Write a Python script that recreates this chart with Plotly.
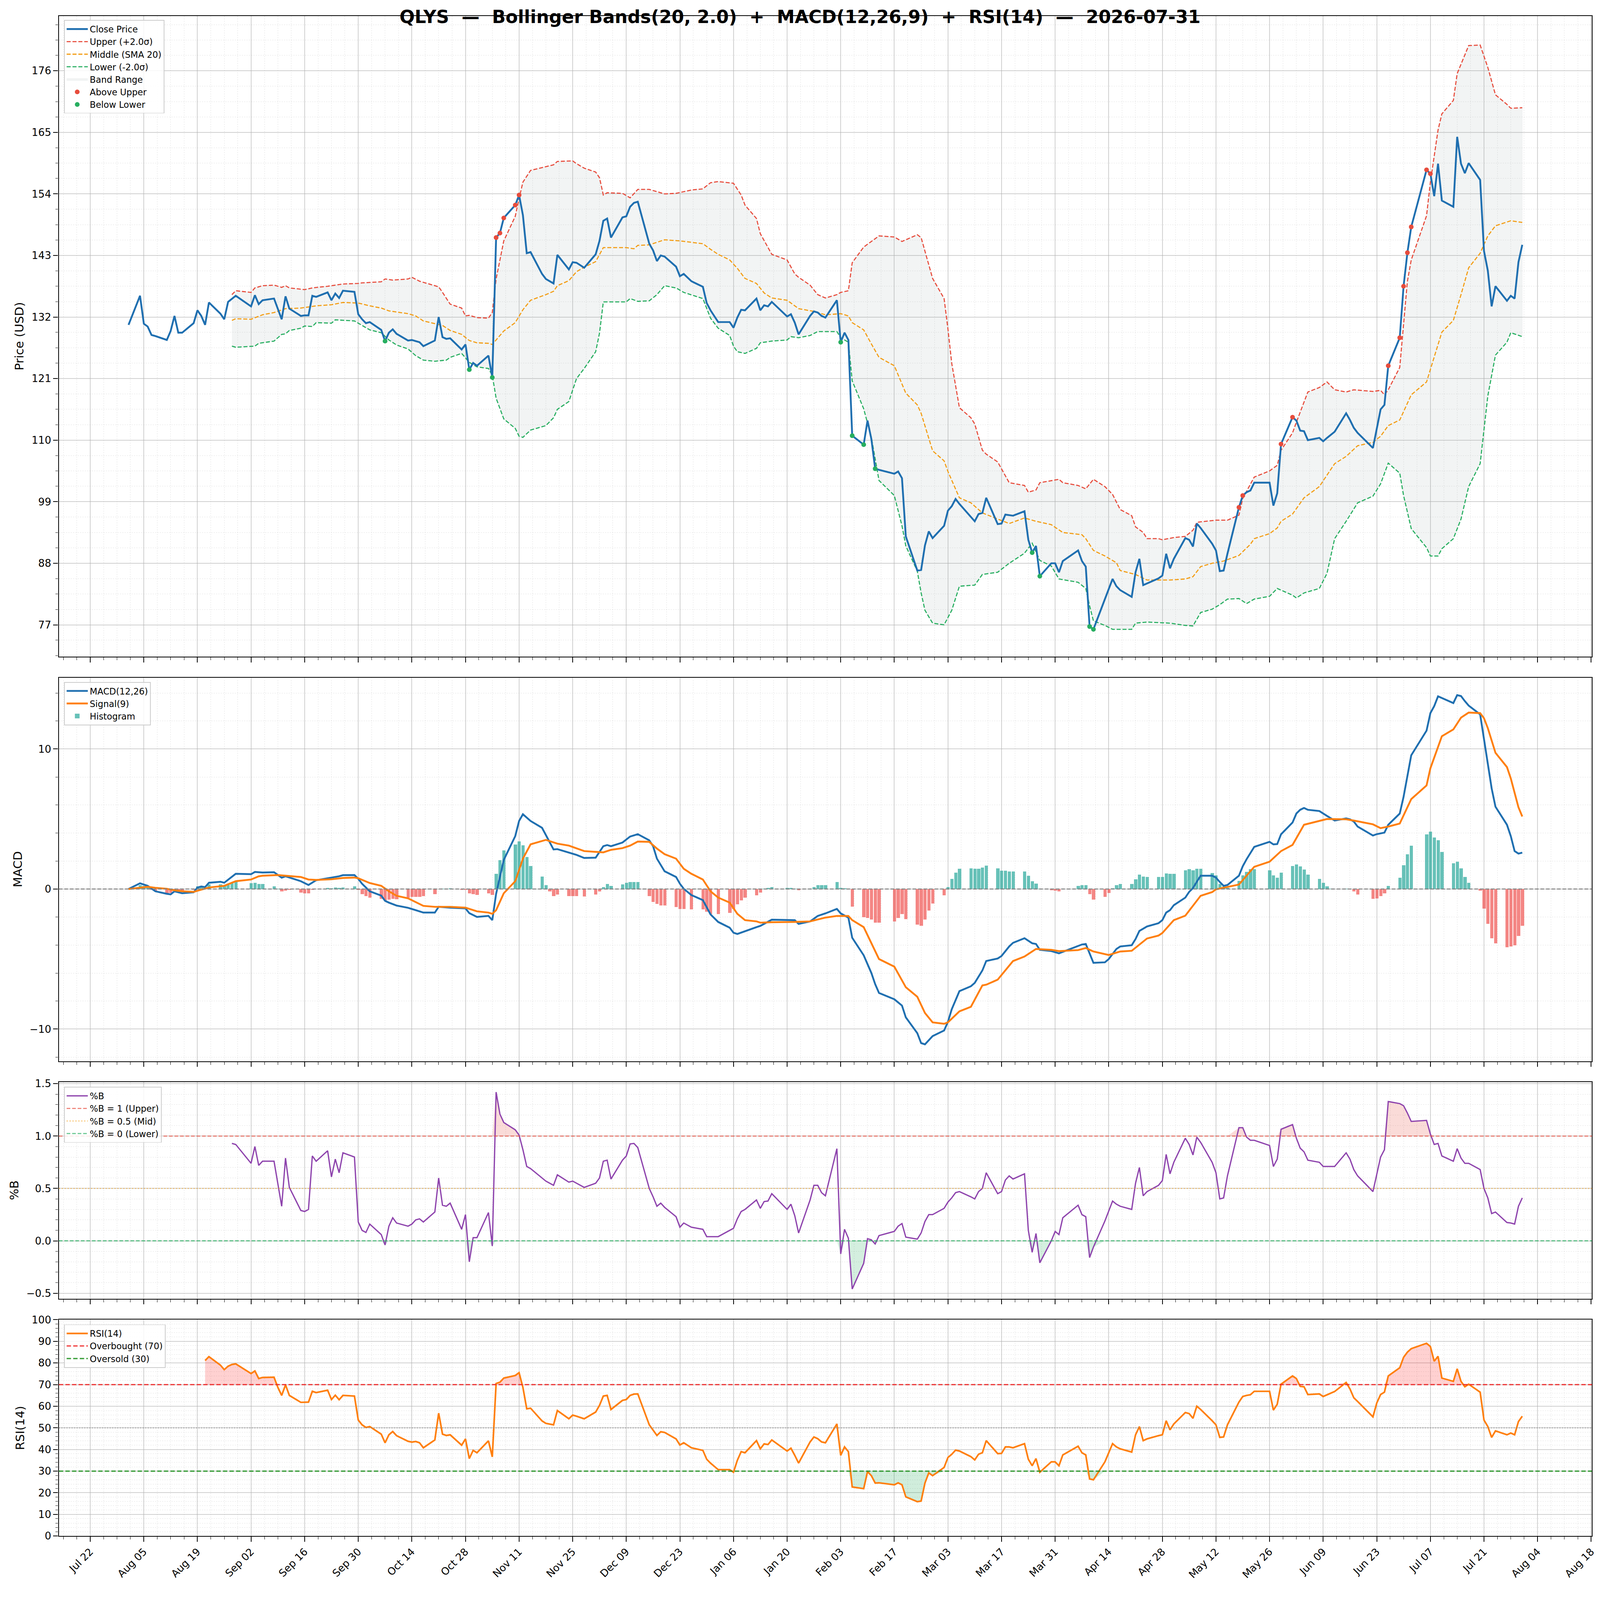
import numpy as np
import pandas as pd
import plotly.graph_objects as go

# QLYS Bollinger / MACD / RSI dashboard

W, H = 4378, 4322
HV = 4378          # the browser viewport is square; the picture keeps its top 4322 rows
S = 0.935          # px sizes are given for the 4378px picture, the page renders ~7% larger
DAY = 86400000
FONT = "DejaVu Sans"

# ---- price panel -------------------------------------------------------
close = [
 ("2025-08-01",130.6),("2025-08-04",135.8),("2025-08-05",130.8),("2025-08-06",130.3),("2025-08-07",128.8),
 ("2025-08-08",128.6),("2025-08-11",127.9),("2025-08-12",129.5),("2025-08-13",132.2),("2025-08-14",129.2),
 ("2025-08-15",129.2),("2025-08-18",130.9),("2025-08-19",133.2),("2025-08-20",132.2),("2025-08-21",130.6),
 ("2025-08-22",134.6),("2025-08-25",132.6),("2025-08-26",131.6),("2025-08-27",134.7),("2025-08-28",135.3),
 ("2025-08-29",135.8),("2025-09-02",133.9),("2025-09-03",135.9),("2025-09-04",134.3),("2025-09-05",135.0),
 ("2025-09-08",135.3),("2025-09-10",131.6),("2025-09-11",135.7),("2025-09-12",133.5),("2025-09-15",132.2),
 ("2025-09-16",132.3),("2025-09-17",132.3),("2025-09-18",135.8),("2025-09-19",135.6),("2025-09-22",136.4),
 ("2025-09-23",135.0),("2025-09-24",136.2),("2025-09-25",135.4),("2025-09-26",136.7),("2025-09-29",136.5),
 ("2025-09-30",132.5),("2025-10-01",131.6),("2025-10-02",130.9),("2025-10-03",131.1),("2025-10-06",129.7),
 ("2025-10-07",127.7),("2025-10-08",129.2),("2025-10-09",129.8),("2025-10-10",129.0),("2025-10-13",127.8),
 ("2025-10-14",127.9),("2025-10-15",127.7),("2025-10-16",127.5),("2025-10-17",126.8),("2025-10-20",127.8),
 ("2025-10-21",132.0),("2025-10-22",128.4),("2025-10-23",128.1),("2025-10-24",128.2),("2025-10-27",126.2),
 ("2025-10-28",127.1),("2025-10-29",122.6),("2025-10-30",123.8),("2025-10-31",123.3),("2025-11-03",125.1),
 ("2025-11-04",121.2),("2025-11-05",146.2),("2025-11-06",147.0),("2025-11-07",149.7),("2025-11-10",152.0),
 ("2025-11-11",153.8),("2025-11-12",150.2),("2025-11-13",143.4),("2025-11-14",143.6),("2025-11-17",139.7),
 ("2025-11-18",138.8),("2025-11-19",138.4),("2025-11-20",138.0),("2025-11-21",143.1),("2025-11-24",140.5),
 ("2025-11-25",141.8),("2025-11-26",141.7),("2025-11-28",140.8),("2025-12-01",143.2),("2025-12-02",145.6),
 ("2025-12-03",149.2),("2025-12-04",149.6),("2025-12-05",146.2),("2025-12-08",149.8),("2025-12-09",150.0),
 ("2025-12-10",151.7),("2025-12-11",152.4),("2025-12-12",152.6),("2025-12-15",145.1),("2025-12-16",143.9),
 ("2025-12-17",142.0),("2025-12-18",143.0),("2025-12-19",142.8),("2025-12-22",141.0),("2025-12-23",139.3),
 ("2025-12-24",139.7),("2025-12-26",138.4),("2025-12-29",137.4),("2025-12-30",134.5),("2025-12-31",133.2),
 ("2026-01-02",131.1),("2026-01-05",131.1),("2026-01-06",130.1),("2026-01-07",131.9),("2026-01-08",133.3),
 ("2026-01-09",133.2),("2026-01-12",135.3),("2026-01-13",133.2),("2026-01-14",134.1),("2026-01-15",133.9),
 ("2026-01-16",134.7),("2026-01-20",132.1),("2026-01-21",132.5),("2026-01-22",131.0),("2026-01-23",128.9),
 ("2026-01-26",132.2),("2026-01-27",133.0),("2026-01-28",132.8),("2026-01-29",132.2),("2026-01-30",131.9),
 ("2026-02-02",135.0),("2026-02-03",127.5),("2026-02-04",129.2),("2026-02-05",127.9),("2026-02-06",110.8),
 ("2026-02-09",109.2),("2026-02-10",113.5),("2026-02-11",110.2),("2026-02-12",104.9),("2026-02-13",104.7),
 ("2026-02-17",104.0),("2026-02-18",104.4),("2026-02-19",103.2),("2026-02-20",92.8),("2026-02-23",86.7),
 ("2026-02-24",86.8),("2026-02-25",91.2),("2026-02-26",93.7),("2026-02-27",92.5),("2026-03-02",94.7),
 ("2026-03-03",97.4),("2026-03-04",98.2),("2026-03-05",99.5),("2026-03-06",98.6),("2026-03-09",96.2),
 ("2026-03-10",95.5),("2026-03-11",96.8),("2026-03-12",97.0),("2026-03-13",99.7),("2026-03-16",95.0),
 ("2026-03-17",95.1),("2026-03-18",96.7),("2026-03-19",96.6),("2026-03-20",96.5),("2026-03-23",97.3),
 ("2026-03-24",92.2),("2026-03-25",89.9),("2026-03-26",91.1),("2026-03-27",85.7),("2026-03-30",88.0),
 ("2026-03-31",88.0),("2026-04-01",86.4),("2026-04-02",88.4),("2026-04-06",90.3),("2026-04-07",88.4),
 ("2026-04-08",87.4),("2026-04-09",76.7),("2026-04-10",76.2),("2026-04-13",81.6),("2026-04-14",83.3),
 ("2026-04-15",85.2),("2026-04-16",83.9),("2026-04-17",83.2),("2026-04-20",82.0),("2026-04-21",86.4),
 ("2026-04-22",88.8),("2026-04-23",84.1),("2026-04-24",84.4),("2026-04-27",85.3),("2026-04-28",85.8),
 ("2026-04-29",89.7),("2026-04-30",87.1),("2026-05-01",88.8),("2026-05-04",92.5),("2026-05-05",92.2),
 ("2026-05-06",91.0),("2026-05-07",95.1),("2026-05-08",94.3),("2026-05-11",91.5),("2026-05-12",90.3),
 ("2026-05-13",86.6),("2026-05-14",86.7),("2026-05-15",89.7),("2026-05-18",98.0),("2026-05-19",100.1),
 ("2026-05-20",100.7),("2026-05-21",101.0),("2026-05-22",102.4),("2026-05-26",102.4),("2026-05-27",98.3),
 ("2026-05-28",100.5),("2026-05-29",109.3),("2026-06-01",114.1),("2026-06-02",113.5),("2026-06-03",111.7),
 ("2026-06-04",111.6),("2026-06-05",110.0),("2026-06-08",110.4),("2026-06-09",109.8),("2026-06-10",110.4),
 ("2026-06-11",111.0),("2026-06-12",111.5),("2026-06-15",114.8),("2026-06-16",113.6),("2026-06-17",112.2),
 ("2026-06-18",111.3),("2026-06-22",108.6),("2026-06-23",112.1),("2026-06-24",115.5),("2026-06-25",116.3),
 ("2026-06-26",123.3),("2026-06-29",128.3),("2026-06-30",137.5),("2026-07-01",143.5),("2026-07-02",148.1),
 ("2026-07-06",158.3),("2026-07-07",157.6),("2026-07-08",153.6),("2026-07-09",159.4),("2026-07-10",152.8),
 ("2026-07-13",151.7),("2026-07-14",164.2),("2026-07-15",159.4),("2026-07-16",157.7),("2026-07-17",159.5),
 ("2026-07-20",156.5),("2026-07-21",143.8),("2026-07-22",140.3),("2026-07-23",133.9),("2026-07-24",137.5),
 ("2026-07-27",134.9),("2026-07-28",135.8),("2026-07-29",135.3),("2026-07-30",141.8),("2026-07-31",144.9),
]

upper = [
 ("2025-08-28",136.0),("2025-08-29",136.7),("2025-09-02",136.4),("2025-09-03",137.2),("2025-09-05",137.6),
 ("2025-09-08",137.7),("2025-09-10",137.3),("2025-09-11",137.6),("2025-09-12",137.2),("2025-09-16",136.9),
 ("2025-09-18",137.2),("2025-09-22",137.5),("2025-09-26",137.9),("2025-09-30",138.0),("2025-10-01",138.1),
 ("2025-10-06",138.3),("2025-10-07",138.8),("2025-10-09",138.6),("2025-10-13",138.8),("2025-10-14",139.1),
 ("2025-10-16",138.4),("2025-10-21",137.4),("2025-10-22",136.4),("2025-10-24",134.3),("2025-10-27",133.6),
 ("2025-10-28",132.2),("2025-10-29",132.3),("2025-10-31",131.9),("2025-11-03",131.8),("2025-11-04",132.8),
 ("2025-11-05",138.8),("2025-11-06",142.2),("2025-11-07",145.6),("2025-11-10",150.0),("2025-11-11",153.2),
 ("2025-11-12",156.1),("2025-11-14",158.2),("2025-11-17",158.7),("2025-11-20",159.2),("2025-11-21",159.8),
 ("2025-11-25",159.9),("2025-11-26",159.4),("2025-11-28",158.6),("2025-12-01",157.9),("2025-12-02",156.9),
 ("2025-12-03",153.8),("2025-12-04",154.2),("2025-12-08",154.1),("2025-12-10",153.3),("2025-12-12",154.8),
 ("2025-12-15",154.8),("2025-12-19",154.0),("2025-12-22",154.1),("2025-12-26",154.7),("2025-12-29",154.9),
 ("2025-12-31",156.0),("2026-01-02",156.2),("2026-01-06",155.9),("2026-01-08",153.8),("2026-01-09",152.0),
 ("2026-01-12",149.6),("2026-01-13",146.9),("2026-01-16",143.2),("2026-01-20",142.2),("2026-01-22",139.7),
 ("2026-01-23",139.1),("2026-01-26",137.7),("2026-01-28",136.0),("2026-01-30",135.4),("2026-02-02",136.0),
 ("2026-02-03",136.4),("2026-02-05",136.7),("2026-02-06",141.7),("2026-02-09",144.5),("2026-02-11",145.5),
 ("2026-02-13",146.5),("2026-02-17",146.3),("2026-02-19",145.5),("2026-02-23",146.7),("2026-02-24",146.2),
 ("2026-02-27",138.9),("2026-03-02",135.3),("2026-03-03",129.9),("2026-03-04",123.7),("2026-03-06",115.8),
 ("2026-03-09",114.0),("2026-03-10",112.9),("2026-03-12",108.2),("2026-03-13",107.5),("2026-03-16",106.1),
 ("2026-03-19",102.4),("2026-03-23",101.9),("2026-03-24",100.7),("2026-03-26",101.1),("2026-03-27",102.4),
 ("2026-04-01",103.0),("2026-04-02",102.4),("2026-04-06",101.9),("2026-04-08",101.3),("2026-04-10",103.0),
 ("2026-04-13",101.7),("2026-04-15",100.3),("2026-04-17",97.6),("2026-04-20",96.5),("2026-04-21",94.5),
 ("2026-04-23",93.5),("2026-04-24",92.4),("2026-04-27",92.4),("2026-04-28",92.2),("2026-05-01",92.6),
 ("2026-05-04",92.8),("2026-05-06",93.9),("2026-05-07",95.3),("2026-05-08",95.4),("2026-05-12",95.7),
 ("2026-05-15",95.7),("2026-05-18",96.6),("2026-05-19",99.6),("2026-05-22",103.4),("2026-05-26",104.5),
 ("2026-05-28",105.5),("2026-05-29",108.2),("2026-06-01",111.3),("2026-06-02",113.2),("2026-06-05",118.6),
 ("2026-06-08",119.4),("2026-06-10",120.4),("2026-06-12",119.0),("2026-06-15",118.6),("2026-06-17",119.0),
 ("2026-06-22",118.7),("2026-06-24",118.9),("2026-06-25",118.1),("2026-06-26",119.0),("2026-06-29",123.0),
 ("2026-07-01",138.4),("2026-07-02",142.2),("2026-07-06",150.1),("2026-07-07",156.1),("2026-07-09",165.4),
 ("2026-07-10",168.3),("2026-07-13",170.7),("2026-07-14",175.5),("2026-07-16",178.9),("2026-07-17",180.5),
 ("2026-07-20",180.6),("2026-07-22",176.6),("2026-07-24",171.7),("2026-07-27",170.0),("2026-07-28",169.3),
 ("2026-07-31",169.4),
]

middle = [
 ("2025-08-28",131.4),("2025-08-29",131.7),("2025-09-02",131.6),("2025-09-05",132.4),("2025-09-08",132.8),
 ("2025-09-11",133.5),("2025-09-15",133.6),("2025-09-19",134.0),("2025-09-23",134.2),("2025-09-26",134.6),
 ("2025-09-30",134.5),("2025-10-03",134.0),("2025-10-06",133.6),("2025-10-08",133.1),("2025-10-13",132.6),
 ("2025-10-15",132.2),("2025-10-17",131.3),("2025-10-20",130.8),("2025-10-22",130.5),("2025-10-24",129.6),
 ("2025-10-27",128.9),("2025-10-29",127.8),("2025-10-31",127.4),("2025-11-03",127.3),("2025-11-04",127.1),
 ("2025-11-05",127.9),("2025-11-07",129.5),("2025-11-10",131.0),("2025-11-12",133.3),("2025-11-14",135.0),
 ("2025-11-18",136.0),("2025-11-20",136.6),("2025-11-21",137.6),("2025-11-24",138.5),("2025-11-26",140.1),
 ("2025-11-28",140.9),("2025-12-01",141.9),("2025-12-03",144.4),("2025-12-09",144.4),("2025-12-11",144.2),
 ("2025-12-12",144.8),("2025-12-15",144.9),("2025-12-19",145.8),("2025-12-23",145.6),("2025-12-29",145.1),
 ("2025-12-31",144.1),("2026-01-02",143.2),("2026-01-05",142.2),("2026-01-07",140.7),("2026-01-09",138.9),
 ("2026-01-12",138.0),("2026-01-14",136.3),("2026-01-16",135.4),("2026-01-20",135.0),("2026-01-23",133.5),
 ("2026-01-27",133.0),("2026-01-30",132.4),("2026-02-03",132.6),("2026-02-05",132.2),("2026-02-06",131.0),
 ("2026-02-09",129.7),("2026-02-11",127.2),("2026-02-13",124.8),("2026-02-17",123.3),("2026-02-20",118.4),
 ("2026-02-23",116.3),("2026-02-24",114.8),("2026-02-27",108.1),("2026-03-02",106.3),("2026-03-03",104.4),
 ("2026-03-06",99.7),("2026-03-09",98.8),("2026-03-12",97.0),("2026-03-16",95.9),("2026-03-19",95.1),
 ("2026-03-23",96.1),("2026-03-26",95.5),("2026-03-30",94.9),("2026-04-02",93.5),("2026-04-07",93.1),
 ("2026-04-08",92.4),("2026-04-10",90.3),("2026-04-13",89.3),("2026-04-16",88.1),("2026-04-17",86.7),
 ("2026-04-21",86.0),("2026-04-24",85.0),("2026-04-30",85.0),("2026-05-04",85.2),("2026-05-06",85.6),
 ("2026-05-08",87.4),("2026-05-11",88.0),("2026-05-14",88.4),("2026-05-18",89.4),("2026-05-21",91.4),
 ("2026-05-22",92.4),("2026-05-26",93.3),("2026-05-28",94.3),("2026-05-29",95.5),("2026-06-01",96.8),
 ("2026-06-04",99.7),("2026-06-08",101.7),("2026-06-12",105.8),("2026-06-15",107.1),("2026-06-18",109.0),
 ("2026-06-22",109.6),("2026-06-24",110.7),("2026-06-26",112.6),("2026-06-29",113.6),("2026-07-02",118.1),
 ("2026-07-06",120.4),("2026-07-10",129.3),("2026-07-13",131.4),("2026-07-15",136.0),("2026-07-17",140.8),
 ("2026-07-20",143.4),("2026-07-22",146.5),("2026-07-24",148.3),("2026-07-27",149.0),("2026-07-28",149.2),
 ("2026-07-31",148.9),
]

lower = [
 ("2025-08-28",126.8),("2025-08-29",126.6),("2025-09-03",126.8),("2025-09-04",127.3),("2025-09-08",127.7),
 ("2025-09-10",128.9),("2025-09-11",129.0),("2025-09-12",129.6),("2025-09-15",130.0),("2025-09-16",130.4),
 ("2025-09-18",130.3),("2025-09-19",131.0),("2025-09-23",130.9),("2025-09-24",131.5),("2025-09-29",131.3),
 ("2025-09-30",130.9),("2025-10-03",129.7),("2025-10-06",129.2),("2025-10-08",127.9),("2025-10-10",127.0),
 ("2025-10-13",126.3),("2025-10-15",125.1),("2025-10-17",124.3),("2025-10-20",124.1),("2025-10-23",124.3),
 ("2025-10-24",124.8),("2025-10-27",125.5),("2025-10-29",123.9),("2025-10-31",123.1),("2025-11-03",122.8),
 ("2025-11-04",121.6),("2025-11-05",117.5),("2025-11-07",113.8),("2025-11-10",112.1),("2025-11-11",110.7),
 ("2025-11-12",110.5),("2025-11-14",111.8),("2025-11-18",112.6),("2025-11-20",114.0),("2025-11-21",115.5),
 ("2025-11-24",116.9),("2025-11-26",121.0),("2025-11-28",122.8),("2025-12-01",125.8),("2025-12-02",129.1),
 ("2025-12-03",134.7),("2025-12-09",134.7),("2025-12-10",135.3),("2025-12-12",134.8),("2025-12-15",134.9),
 ("2025-12-17",136.0),("2025-12-19",137.6),("2025-12-22",137.2),("2025-12-24",136.4),("2025-12-29",135.3),
 ("2025-12-31",131.8),("2026-01-02",130.0),("2026-01-05",128.7),("2026-01-06",126.8),("2026-01-07",125.8),
 ("2026-01-09",125.5),("2026-01-12",126.4),("2026-01-13",127.4),("2026-01-16",127.7),("2026-01-20",127.9),
 ("2026-01-21",128.5),("2026-01-23",128.3),("2026-01-26",128.7),("2026-01-28",129.4),("2026-02-02",129.4),
 ("2026-02-03",128.3),("2026-02-05",127.5),("2026-02-06",120.6),("2026-02-09",115.6),("2026-02-11",110.5),
 ("2026-02-13",102.8),("2026-02-17",100.1),("2026-02-19",94.7),("2026-02-20",91.1),("2026-02-23",86.6),
 ("2026-02-24",82.7),("2026-02-25",79.6),("2026-02-27",77.3),("2026-03-02",77.0),("2026-03-04",79.6),
 ("2026-03-06",83.9),("2026-03-10",84.1),("2026-03-12",86.0),("2026-03-16",86.4),("2026-03-19",88.0),
 ("2026-03-23",89.8),("2026-03-25",91.6),("2026-03-27",88.5),("2026-03-30",87.5),("2026-04-01",85.2),
 ("2026-04-06",84.6),("2026-04-08",83.5),("2026-04-09",80.4),("2026-04-10",77.7),("2026-04-13",76.9),
 ("2026-04-15",76.2),("2026-04-20",76.2),("2026-04-21",77.3),("2026-04-24",77.5),("2026-04-30",77.3),
 ("2026-05-04",76.9),("2026-05-06",76.8),("2026-05-08",79.2),("2026-05-11",79.8),("2026-05-13",80.6),
 ("2026-05-15",81.6),("2026-05-18",81.7),("2026-05-20",80.8),("2026-05-22",81.6),("2026-05-26",82.1),
 ("2026-05-28",83.5),("2026-06-01",82.3),("2026-06-02",81.8),("2026-06-04",82.7),("2026-06-08",83.5),
 ("2026-06-10",86.2),("2026-06-12",92.4),("2026-06-15",95.5),("2026-06-18",98.8),("2026-06-22",100.0),
 ("2026-06-24",102.2),("2026-06-26",105.9),("2026-06-29",104.1),("2026-06-30",100.1),("2026-07-02",94.2),
 ("2026-07-06",90.8),("2026-07-07",89.3),("2026-07-09",89.3),("2026-07-10",90.6),("2026-07-13",92.4),
 ("2026-07-15",95.9),("2026-07-17",101.7),("2026-07-20",105.8),("2026-07-22",117.9),("2026-07-24",125.2),
 ("2026-07-27",127.5),("2026-07-28",129.2),("2026-07-31",128.5),
]

above_upper = [
 ("2025-11-05",146.2),("2025-11-06",147.0),("2025-11-07",149.7),("2025-11-10",152.0),("2025-11-11",153.8),
 ("2026-05-18",98.0),("2026-05-19",100.1),("2026-05-29",109.3),("2026-06-01",114.1),("2026-06-26",123.3),
 ("2026-06-29",128.3),("2026-06-30",137.5),("2026-07-01",143.5),("2026-07-02",148.1),("2026-07-06",158.3),
 ("2026-07-07",157.6),
]
below_lower = [
 ("2025-10-07",127.7),("2025-10-29",122.6),("2025-11-04",121.2),("2026-02-03",127.5),("2026-02-06",110.8),
 ("2026-02-09",109.2),("2026-02-12",104.9),("2026-03-25",89.9),("2026-03-27",85.7),("2026-04-09",76.7),
 ("2026-04-10",76.2),
]

# ---- MACD panel --------------------------------------------------------
macd = [
 ("2025-08-01",0.0),("2025-08-04",0.41),("2025-08-06",0.23),("2025-08-08",-0.16),("2025-08-11",-0.34),
 ("2025-08-12",-0.38),("2025-08-13",-0.16),("2025-08-15",-0.30),("2025-08-18",-0.23),("2025-08-19",0.11),
 ("2025-08-20",0.18),("2025-08-21",0.14),("2025-08-22",0.45),("2025-08-25",0.52),("2025-08-26",0.45),
 ("2025-08-29",1.09),("2025-09-02",1.06),("2025-09-03",1.22),("2025-09-05",1.18),("2025-09-08",1.20),
 ("2025-09-10",0.81),("2025-09-11",0.91),("2025-09-15",0.56),("2025-09-17",0.29),("2025-09-19",0.63),
 ("2025-09-22",0.77),("2025-09-25",0.91),("2025-09-26",0.99),("2025-09-29",1.00),("2025-09-30",0.73),
 ("2025-10-01",0.38),("2025-10-03",-0.16),("2025-10-06",-0.47),("2025-10-07",-0.84),("2025-10-08",-0.97),
 ("2025-10-10",-1.18),("2025-10-13",-1.34),("2025-10-15",-1.51),("2025-10-17",-1.68),("2025-10-20",-1.68),
 ("2025-10-21",-1.27),("2025-10-24",-1.33),("2025-10-28",-1.38),("2025-10-29",-1.72),("2025-10-31",-1.99),
 ("2025-11-03",-1.92),("2025-11-04",-2.22),("2025-11-05",-0.34),("2025-11-07",2.08),("2025-11-10",3.78),
 ("2025-11-11",4.86),("2025-11-12",5.34),("2025-11-13",5.10),("2025-11-14",4.86),("2025-11-17",4.37),
 ("2025-11-20",2.83),("2025-11-21",2.85),("2025-11-24",2.60),("2025-11-26",2.44),("2025-11-28",2.22),
 ("2025-12-01",2.24),("2025-12-03",3.06),("2025-12-04",3.14),("2025-12-05",3.06),("2025-12-08",3.32),
 ("2025-12-10",3.75),("2025-12-12",3.92),("2025-12-15",3.48),("2025-12-16",3.06),("2025-12-17",2.17),
 ("2025-12-19",1.27),("2025-12-22",0.86),("2025-12-23",0.38),("2025-12-24",0.02),("2025-12-26",-0.43),
 ("2025-12-29",-0.79),("2025-12-31",-1.81),("2026-01-02",-2.35),("2026-01-05",-2.76),("2026-01-06",-3.12),
 ("2026-01-07",-3.21),("2026-01-12",-2.72),("2026-01-13",-2.63),("2026-01-16",-2.19),("2026-01-20",-2.20),
 ("2026-01-22",-2.22),("2026-01-23",-2.49),("2026-01-26",-2.31),("2026-01-28",-1.92),("2026-01-30",-1.74),
 ("2026-02-02",-1.42),("2026-02-03",-1.74),("2026-02-05",-2.04),("2026-02-06",-3.48),("2026-02-09",-4.73),
 ("2026-02-11",-5.99),("2026-02-12",-6.79),("2026-02-13",-7.42),("2026-02-17",-7.87),("2026-02-19",-8.32),
 ("2026-02-20",-9.16),("2026-02-23",-10.29),("2026-02-24",-11.0),("2026-02-25",-11.09),("2026-02-27",-10.50),
 ("2026-03-02",-10.10),("2026-03-03",-9.48),("2026-03-04",-8.58),("2026-03-06",-7.29),("2026-03-09",-6.94),
 ("2026-03-10",-6.70),("2026-03-12",-5.81),("2026-03-13",-5.14),("2026-03-16",-4.96),("2026-03-17",-4.78),
 ("2026-03-19",-4.10),("2026-03-20",-3.84),("2026-03-23",-3.51),("2026-03-25",-3.87),("2026-03-26",-3.92),
 ("2026-03-27",-4.34),("2026-03-30",-4.43),("2026-04-01",-4.59),("2026-04-06",-4.07),("2026-04-07",-3.96),
 ("2026-04-08",-3.92),("2026-04-10",-5.27),("2026-04-13",-5.23),("2026-04-14",-5.00),("2026-04-16",-4.28),
 ("2026-04-17",-4.10),("2026-04-20",-4.01),("2026-04-21",-3.57),("2026-04-22",-2.99),("2026-04-24",-2.67),
 ("2026-04-27",-2.44),("2026-04-28",-2.22),("2026-04-29",-1.68),("2026-04-30",-1.51),("2026-05-01",-1.15),
 ("2026-05-04",-0.61),("2026-05-05",-0.20),("2026-05-06",0.07),("2026-05-07",0.52),("2026-05-08",0.95),
 ("2026-05-11",0.95),("2026-05-12",0.82),("2026-05-13",0.50),("2026-05-14",0.23),("2026-05-15",0.29),
 ("2026-05-18",0.95),("2026-05-19",1.63),("2026-05-20",2.13),("2026-05-22",3.01),("2026-05-26",3.37),
 ("2026-05-27",3.19),("2026-05-28",3.21),("2026-05-29",3.91),("2026-06-01",4.75),("2026-06-02",5.39),
 ("2026-06-03",5.66),("2026-06-04",5.79),("2026-06-05",5.66),("2026-06-08",5.57),("2026-06-09",5.39),
 ("2026-06-10",5.22),("2026-06-12",4.89),("2026-06-15",5.04),("2026-06-16",4.98),("2026-06-17",4.82),
 ("2026-06-18",4.46),("2026-06-22",3.82),("2026-06-23",3.92),("2026-06-25",4.03),("2026-06-26",4.59),
 ("2026-06-29",5.39),("2026-06-30",6.59),("2026-07-01",8.05),("2026-07-02",9.55),("2026-07-06",11.31),
 ("2026-07-07",12.56),("2026-07-08",13.06),("2026-07-09",13.76),("2026-07-10",13.64),("2026-07-13",13.28),
 ("2026-07-14",13.85),("2026-07-15",13.78),("2026-07-16",13.42),("2026-07-17",13.10),("2026-07-20",12.47),
 ("2026-07-21",10.77),("2026-07-22",8.98),("2026-07-23",7.19),("2026-07-24",5.88),("2026-07-27",4.59),
 ("2026-07-28",3.78),("2026-07-29",2.71),("2026-07-30",2.53),("2026-07-31",2.60),
]

signal = [
 ("2025-08-01",0.0),("2025-08-06",0.16),("2025-08-08",0.09),("2025-08-11",0.02),("2025-08-13",-0.09),
 ("2025-08-15",-0.16),("2025-08-18",-0.20),("2025-08-21",0.02),("2025-08-22",0.11),("2025-08-26",0.23),
 ("2025-08-29",0.56),("2025-09-02",0.68),("2025-09-04",0.91),("2025-09-05",0.95),("2025-09-09",1.00),
 ("2025-09-15",0.86),("2025-09-17",0.68),("2025-09-19",0.65),("2025-09-23",0.70),("2025-09-26",0.79),
 ("2025-09-29",0.82),("2025-09-30",0.77),("2025-10-03",0.43),("2025-10-06",0.23),("2025-10-08",-0.16),
 ("2025-10-10",-0.48),("2025-10-13",-0.66),("2025-10-17",-1.20),("2025-10-20",-1.27),("2025-10-24",-1.27),
 ("2025-10-28",-1.33),("2025-10-31",-1.59),("2025-11-03",-1.68),("2025-11-04",-1.77),("2025-11-05",-1.51),
 ("2025-11-07",-0.30),("2025-11-10",0.56),("2025-11-12",2.17),("2025-11-14",3.19),("2025-11-18",3.51),
 ("2025-11-21",3.24),("2025-11-24",3.10),("2025-11-26",2.89),("2025-11-28",2.71),("2025-12-03",2.62),
 ("2025-12-05",2.80),("2025-12-08",2.92),("2025-12-10",3.10),("2025-12-12",3.39),("2025-12-15",3.37),
 ("2025-12-17",2.89),("2025-12-19",2.49),("2025-12-22",2.17),("2025-12-24",1.45),("2025-12-26",1.09),
 ("2025-12-29",0.68),("2025-12-31",-0.16),("2026-01-02",-0.61),("2026-01-05",-0.97),("2026-01-07",-1.77),
 ("2026-01-09",-2.22),("2026-01-12",-2.31),("2026-01-13",-2.40),("2026-01-16",-2.37),("2026-01-22",-2.35),
 ("2026-01-26",-2.31),("2026-01-30",-2.04),("2026-02-02",-1.92),("2026-02-05",-1.92),("2026-02-06",-2.22),
 ("2026-02-09",-2.72),("2026-02-11",-3.84),("2026-02-13",-5.00),("2026-02-17",-5.54),("2026-02-20",-7.01),
 ("2026-02-23",-7.69),("2026-02-25",-8.85),("2026-02-27",-9.52),("2026-03-02",-9.62),("2026-03-03",-9.52),
 ("2026-03-04",-9.27),("2026-03-06",-8.73),("2026-03-09",-8.41),("2026-03-12",-6.88),("2026-03-13",-6.83),
 ("2026-03-16",-6.47),("2026-03-20",-5.14),("2026-03-23",-4.82),("2026-03-26",-4.28),("2026-03-30",-4.34),
 ("2026-04-01",-4.43),("2026-04-06",-4.36),("2026-04-08",-4.21),("2026-04-10",-4.46),("2026-04-14",-4.71),
 ("2026-04-17",-4.46),("2026-04-20",-4.41),("2026-04-24",-3.53),("2026-04-27",-3.32),("2026-04-28",-3.14),
 ("2026-05-01",-2.22),("2026-05-04",-1.90),("2026-05-08",-0.48),("2026-05-11",-0.22),("2026-05-12",-0.02),
 ("2026-05-15",0.16),("2026-05-18",0.32),("2026-05-22",1.59),("2026-05-26",1.95),("2026-05-29",2.71),
 ("2026-06-01",3.15),("2026-06-04",4.59),("2026-06-08",4.86),("2026-06-10",5.00),("2026-06-15",4.98),
 ("2026-06-17",4.89),("2026-06-22",4.62),("2026-06-24",4.35),("2026-06-26",4.46),("2026-06-29",4.68),
 ("2026-07-02",6.42),("2026-07-06",7.40),("2026-07-07",8.62),("2026-07-09",10.09),("2026-07-10",10.91),
 ("2026-07-13",11.40),("2026-07-15",12.24),("2026-07-17",12.60),("2026-07-20",12.56),("2026-07-21",12.20),
 ("2026-07-22",11.49),("2026-07-24",9.73),("2026-07-27",8.71),("2026-07-28",7.90),("2026-07-29",6.83),
 ("2026-07-30",5.84),("2026-07-31",5.18),
]

# histogram, one row per trading week (Mon..Fri), None = market closed
hist_first_monday = "2025-07-28"
hist_weeks = [
 [None, None, None, None, 0.0],
 [0.29, 0.22, 0.12, -0.05, -0.12], [-0.30, -0.28, -0.10, -0.15, -0.12], [-0.05, 0.20, 0.18, 0.15, 0.35],
 [0.35, 0.25, 0.40, 0.45, 0.50], [None, 0.42, 0.45, 0.38, 0.36], [0.20, 0.05, -0.15, -0.10, -0.05],
 [-0.25, -0.30, -0.30, -0.05, 0.02], [0.10, 0.08, 0.12, 0.10, 0.12], [0.20, -0.05, -0.35, -0.50, -0.60],
 [-0.70, -0.80, -0.75, -0.70, -0.72], [-0.60, -0.55, -0.55, -0.55, -0.48], [-0.35, 0.02, 0.03, 0.04, 0.06],
 [-0.05, -0.05, -0.30, -0.35, -0.40], [-0.30, -0.42, 1.09, 2.08, 2.78], [3.19, 3.40, 3.14, 2.29, 1.67],
 [0.91, 0.29, -0.16, -0.48, -0.38], [-0.48, -0.48, -0.48, None, -0.52], [-0.38, -0.16, 0.16, 0.38, 0.23],
 [0.34, 0.45, 0.52, 0.50, 0.50], [-0.48, -0.91, -1.06, -1.15, -1.15], [-1.27, -1.42, -1.42, None, -1.45],
 [-1.45, -1.60, -1.77, None, -1.77], [-1.68, -1.42, -1.09, -0.79, -0.60], [-0.43, -0.25, 0.05, 0.10, 0.16],
 [None, 0.10, 0.10, 0.05, -0.08], [0.05, 0.16, 0.29, 0.29, 0.29], [0.52, 0.10, 0.06, 0.05, -1.24],
 [-1.99, -2.04, -2.17, -2.40, -2.40], [None, -2.31, -2.04, -1.77, -2.13], [-2.54, -2.62, -2.17, -1.51, -1.02],
 [-0.43, 0.16, 0.73, 1.18, 1.45], [1.49, 1.45, 1.45, 1.54, 1.68], [1.49, 1.33, 1.33, 1.27, 1.27],
 [1.27, 0.95, 0.56, 0.41, 0.05], [-0.07, -0.09, -0.16, 0.02, None], [0.23, 0.29, 0.29, -0.34, -0.73],
 [-0.56, -0.27, 0.07, 0.29, 0.38], [0.38, 0.70, 1.04, 0.91, 0.88], [0.88, 0.88, 1.13, 1.09, 1.09],
 [1.36, 1.42, 1.36, 1.45, 1.45], [1.15, 1.00, 0.38, 0.20, 0.10], [0.59, 1.00, 1.24, 1.42, 1.42],
 [None, 1.36, 1.00, 0.82, 1.18], [1.67, 1.77, 1.63, 1.40, 1.04], [0.73, 0.45, 0.20, 0.05, 0.02],
 [0.03, 0.00, -0.16, -0.38, None], [-0.70, -0.66, -0.48, -0.30, 0.23], [0.82, 1.72, 2.49, 3.10, None],
 [3.92, 4.10, 3.69, 3.51, 2.67], [1.86, 1.95, 1.49, 0.88, 0.47], [-0.09, -1.38, -2.46, -3.51, -3.87],
 [-4.14, -4.10, -4.01, -3.35, -2.62],
]

# ---- %B panel ----------------------------------------------------------
pctb = [
 ("2025-08-28",0.93),("2025-08-29",0.92),("2025-09-02",0.74),("2025-09-03",0.90),("2025-09-04",0.72),
 ("2025-09-05",0.76),("2025-09-08",0.76),("2025-09-10",0.33),("2025-09-11",0.79),("2025-09-12",0.51),
 ("2025-09-15",0.29),("2025-09-16",0.28),("2025-09-17",0.30),("2025-09-18",0.81),("2025-09-19",0.76),
 ("2025-09-22",0.86),("2025-09-23",0.61),("2025-09-24",0.78),("2025-09-25",0.65),("2025-09-26",0.84),
 ("2025-09-29",0.80),("2025-09-30",0.18),("2025-10-01",0.10),("2025-10-02",0.08),("2025-10-03",0.16),
 ("2025-10-06",0.06),("2025-10-07",-0.04),("2025-10-08",0.14),("2025-10-09",0.22),("2025-10-10",0.17),
 ("2025-10-13",0.14),("2025-10-14",0.16),("2025-10-15",0.20),("2025-10-16",0.21),("2025-10-17",0.18),
 ("2025-10-20",0.275),("2025-10-21",0.60),("2025-10-22",0.34),("2025-10-23",0.33),("2025-10-24",0.36),
 ("2025-10-27",0.11),("2025-10-28",0.25),("2025-10-29",-0.20),("2025-10-30",0.03),("2025-10-31",0.03),
 ("2025-11-03",0.27),("2025-11-04",-0.05),("2025-11-05",1.42),("2025-11-06",1.21),("2025-11-07",1.13),
 ("2025-11-10",1.06),("2025-11-11",1.01),("2025-11-12",0.87),("2025-11-13",0.71),("2025-11-14",0.69),
 ("2025-11-17",0.60),("2025-11-18",0.57),("2025-11-20",0.53),("2025-11-21",0.63),("2025-11-24",0.56),
 ("2025-11-25",0.57),("2025-11-28",0.51),("2025-12-01",0.55),("2025-12-02",0.60),("2025-12-03",0.76),
 ("2025-12-04",0.77),("2025-12-05",0.59),("2025-12-08",0.77),("2025-12-09",0.81),("2025-12-10",0.925),
 ("2025-12-11",0.93),("2025-12-12",0.89),("2025-12-15",0.50),("2025-12-16",0.42),("2025-12-17",0.33),
 ("2025-12-18",0.36),("2025-12-19",0.32),("2025-12-22",0.23),("2025-12-23",0.13),("2025-12-24",0.17),
 ("2025-12-26",0.13),("2025-12-29",0.11),("2025-12-30",0.04),("2025-12-31",0.04),("2026-01-02",0.04),
 ("2026-01-05",0.10),("2026-01-06",0.12),("2026-01-07",0.21),("2026-01-08",0.28),("2026-01-09",0.30),
 ("2026-01-12",0.39),("2026-01-13",0.31),("2026-01-14",0.375),("2026-01-15",0.38),("2026-01-16",0.45),
 ("2026-01-20",0.30),("2026-01-21",0.35),("2026-01-22",0.24),("2026-01-23",0.075),("2026-01-26",0.39),
 ("2026-01-27",0.53),("2026-01-28",0.53),("2026-01-29",0.46),("2026-01-30",0.43),("2026-02-02",0.88),
 ("2026-02-03",-0.125),("2026-02-04",0.11),("2026-02-05",0.025),("2026-02-06",-0.46),("2026-02-09",-0.215),
 ("2026-02-10",0.02),("2026-02-11",0.01),("2026-02-12",-0.03),("2026-02-13",0.05),("2026-02-17",0.09),
 ("2026-02-18",0.14),("2026-02-19",0.165),("2026-02-20",0.035),("2026-02-23",0.016),("2026-02-24",0.075),
 ("2026-02-25",0.185),("2026-02-26",0.25),("2026-02-27",0.25),("2026-03-02",0.31),("2026-03-03",0.37),
 ("2026-03-04",0.41),("2026-03-05",0.46),("2026-03-06",0.47),("2026-03-09",0.42),("2026-03-10",0.40),
 ("2026-03-11",0.47),("2026-03-12",0.50),("2026-03-13",0.65),("2026-03-16",0.45),("2026-03-17",0.47),
 ("2026-03-18",0.58),("2026-03-19",0.62),("2026-03-20",0.59),("2026-03-23",0.64),("2026-03-24",0.10),
 ("2026-03-25",-0.11),("2026-03-26",0.07),("2026-03-27",-0.21),("2026-03-30",0.00),("2026-03-31",0.09),
 ("2026-04-01",0.06),("2026-04-02",0.22),("2026-04-06",0.34),("2026-04-07",0.25),("2026-04-08",0.23),
 ("2026-04-09",-0.16),("2026-04-10",-0.06),("2026-04-13",0.19),("2026-04-15",0.38),("2026-04-16",0.35),
 ("2026-04-17",0.33),("2026-04-20",0.30),("2026-04-21",0.55),("2026-04-22",0.70),("2026-04-23",0.43),
 ("2026-04-24",0.47),("2026-04-27",0.53),("2026-04-28",0.575),("2026-04-29",0.825),("2026-04-30",0.64),
 ("2026-05-01",0.75),("2026-05-04",0.98),("2026-05-05",0.92),("2026-05-06",0.82),("2026-05-07",0.99),
 ("2026-05-08",0.94),("2026-05-11",0.75),("2026-05-12",0.65),("2026-05-13",0.40),("2026-05-14",0.41),
 ("2026-05-15",0.62),("2026-05-18",1.08),("2026-05-19",1.08),("2026-05-20",0.99),("2026-05-21",0.96),
 ("2026-05-22",0.96),("2026-05-26",0.91),("2026-05-27",0.71),("2026-05-28",0.78),("2026-05-29",1.065),
 ("2026-06-01",1.11),("2026-06-02",0.98),("2026-06-03",0.885),("2026-06-04",0.85),("2026-06-05",0.77),
 ("2026-06-08",0.75),("2026-06-09",0.71),("2026-06-10",0.71),("2026-06-12",0.71),("2026-06-15",0.84),
 ("2026-06-16",0.78),("2026-06-17",0.68),("2026-06-18",0.62),("2026-06-22",0.47),("2026-06-23",0.63),
 ("2026-06-24",0.80),("2026-06-25",0.87),("2026-06-26",1.33),("2026-06-29",1.31),("2026-06-30",1.29),
 ("2026-07-01",1.22),("2026-07-02",1.14),("2026-07-06",1.15),("2026-07-07",1.02),("2026-07-08",0.92),
 ("2026-07-09",0.93),("2026-07-10",0.81),("2026-07-13",0.76),("2026-07-14",0.88),("2026-07-15",0.79),
 ("2026-07-16",0.74),("2026-07-17",0.74),("2026-07-20",0.68),("2026-07-21",0.50),("2026-07-22",0.41),
 ("2026-07-23",0.26),("2026-07-24",0.275),("2026-07-27",0.175),("2026-07-28",0.17),("2026-07-29",0.16),
 ("2026-07-30",0.33),("2026-07-31",0.41),
]

# ---- RSI panel ---------------------------------------------------------
rsi = [
 ("2025-08-21",81.1),("2025-08-22",82.9),("2025-08-25",79.0),("2025-08-26",76.9),("2025-08-27",78.5),
 ("2025-08-28",79.3),("2025-08-29",79.6),("2025-09-02",75.1),("2025-09-03",76.3),("2025-09-04",72.8),
 ("2025-09-05",73.3),("2025-09-08",73.4),("2025-09-09",68.7),("2025-09-10",65.0),("2025-09-11",69.9),
 ("2025-09-12",65.0),("2025-09-15",61.8),("2025-09-17",61.9),("2025-09-18",66.9),("2025-09-19",66.3),
 ("2025-09-22",67.4),("2025-09-23",63.1),("2025-09-24",65.1),("2025-09-25",63.0),("2025-09-26",65.0),
 ("2025-09-29",64.7),("2025-09-30",53.6),("2025-10-01",51.4),("2025-10-02",50.2),("2025-10-03",50.6),
 ("2025-10-06",47.1),("2025-10-07",43.1),("2025-10-08",46.8),("2025-10-09",48.3),("2025-10-10",46.4),
 ("2025-10-13",43.8),("2025-10-14",43.4),("2025-10-15",43.7),("2025-10-16",43.1),("2025-10-17",40.8),
 ("2025-10-20",44.4),("2025-10-21",56.8),("2025-10-22",47.1),("2025-10-23",46.5),("2025-10-24",46.8),
 ("2025-10-27",42.0),("2025-10-28",44.9),("2025-10-29",35.8),("2025-10-30",39.6),("2025-10-31",38.5),
 ("2025-11-03",44.0),("2025-11-04",36.6),("2025-11-05",70.5),("2025-11-06",71.1),("2025-11-07",73.0),
 ("2025-11-10",74.2),("2025-11-11",75.5),("2025-11-12",68.7),("2025-11-13",58.8),("2025-11-14",59.1),
 ("2025-11-17",53.2),("2025-11-18",52.1),("2025-11-20",51.4),("2025-11-21",58.0),("2025-11-24",54.2),
 ("2025-11-25",55.9),("2025-11-26",55.4),("2025-11-28",54.2),("2025-12-01",57.3),("2025-12-02",60.4),
 ("2025-12-03",64.7),("2025-12-04",65.0),("2025-12-05",58.5),("2025-12-08",62.7),("2025-12-09",63.1),
 ("2025-12-10",65.0),("2025-12-11",65.6),("2025-12-12",65.7),("2025-12-15",51.4),("2025-12-16",49.1),
 ("2025-12-17",46.5),("2025-12-18",48.2),("2025-12-19",47.9),("2025-12-22",44.9),("2025-12-23",42.1),
 ("2025-12-24",43.1),("2025-12-26",40.8),("2025-12-29",39.6),("2025-12-30",35.5),("2025-12-31",33.7),
 ("2026-01-02",30.7),("2026-01-05",30.7),("2026-01-06",29.5),("2026-01-07",35.0),("2026-01-08",39.0),
 ("2026-01-09",38.5),("2026-01-12",44.1),("2026-01-13",40.3),("2026-01-14",42.6),("2026-01-15",42.3),
 ("2026-01-16",44.4),("2026-01-20",39.3),("2026-01-21",40.6),("2026-01-22",37.3),("2026-01-23",33.7),
 ("2026-01-26",43.5),("2026-01-27",45.8),("2026-01-28",45.0),("2026-01-29",43.5),("2026-01-30",43.1),
 ("2026-02-02",51.8),("2026-02-03",37.3),("2026-02-04",41.2),("2026-02-05",39.0),("2026-02-06",22.7),
 ("2026-02-09",21.9),("2026-02-10",29.8),("2026-02-11",27.9),("2026-02-12",24.5),("2026-02-13",24.6),
 ("2026-02-17",23.7),("2026-02-18",24.6),("2026-02-19",23.7),("2026-02-20",18.1),("2026-02-23",15.9),
 ("2026-02-24",16.2),("2026-02-25",24.5),("2026-02-26",29.2),("2026-02-27",27.9),("2026-03-02",31.7),
 ("2026-03-03",36.3),("2026-03-04",37.8),("2026-03-05",39.7),("2026-03-06",39.3),("2026-03-09",36.7),
 ("2026-03-10",35.2),("2026-03-11",37.8),("2026-03-12",38.5),("2026-03-13",44.1),("2026-03-16",38.1),
 ("2026-03-17",38.2),("2026-03-18",41.2),("2026-03-19",41.2),("2026-03-20",40.8),("2026-03-23",42.7),
 ("2026-03-24",35.5),("2026-03-25",32.5),("2026-03-26",35.8),("2026-03-27",29.5),("2026-03-30",34.3),
 ("2026-03-31",34.3),("2026-04-01",32.5),("2026-04-02",37.5),("2026-04-06",41.5),("2026-04-07",38.5),
 ("2026-04-08",37.5),("2026-04-09",26.4),("2026-04-10",26.0),("2026-04-13",34.3),("2026-04-15",42.7),
 ("2026-04-16",41.2),("2026-04-17",40.3),("2026-04-20",38.8),("2026-04-21",46.8),("2026-04-22",50.6),
 ("2026-04-23",44.1),("2026-04-24",44.9),("2026-04-27",46.4),("2026-04-28",46.8),("2026-04-29",53.3),
 ("2026-04-30",49.1),("2026-05-01",51.8),("2026-05-04",57.1),("2026-05-05",56.6),("2026-05-06",54.4),
 ("2026-05-07",60.0),("2026-05-08",58.5),("2026-05-11",53.3),("2026-05-12",51.4),("2026-05-13",45.6),
 ("2026-05-14",45.8),("2026-05-15",51.4),("2026-05-18",61.9),("2026-05-19",64.5),("2026-05-20",65.0),
 ("2026-05-21",65.3),("2026-05-22",66.9),("2026-05-26",66.9),("2026-05-27",58.2),("2026-05-28",60.9),
 ("2026-05-29",70.2),("2026-06-01",74.0),("2026-06-02",72.8),("2026-06-03",69.2),("2026-06-04",69.0),
 ("2026-06-05",65.4),("2026-06-08",65.7),("2026-06-09",64.5),("2026-06-10",65.3),("2026-06-12",66.8),
 ("2026-06-15",71.0),("2026-06-16",68.0),("2026-06-17",63.9),("2026-06-18",62.2),("2026-06-22",55.1),
 ("2026-06-23",61.5),("2026-06-24",65.4),("2026-06-25",66.5),("2026-06-26",74.0),("2026-06-29",77.8),
 ("2026-06-30",82.6),("2026-07-01",85.0),("2026-07-02",86.6),("2026-07-06",89.1),("2026-07-07",87.6),
 ("2026-07-08",80.8),("2026-07-09",83.1),("2026-07-10",73.0),("2026-07-13",71.5),("2026-07-14",77.3),
 ("2026-07-15",71.5),("2026-07-16",69.0),("2026-07-17",70.2),("2026-07-20",66.5),("2026-07-21",53.6),
 ("2026-07-22",50.6),("2026-07-23",45.6),("2026-07-24",48.6),("2026-07-27",46.8),("2026-07-28",47.6),
 ("2026-07-29",46.8),("2026-07-30",52.9),("2026-07-31",55.4),
]


def unzip(pairs):
    d, v = zip(*pairs)
    return list(d), list(v)


def px(v):
    return v * S


def yf(p):
    # picture row (from the top) -> paper fraction
    return 1 - p / HV


cl_d, cl_v = unzip(close)
up_d, up_v = unzip(upper)
md_d, md_v = unzip(middle)
lo_d, lo_v = unzip(lower)
au_d, au_v = unzip(above_upper)
bl_d, bl_v = unzip(below_lower)
mc_d, mc_v = unzip(macd)
sg_d, sg_v = unzip(signal)
pb_d, pb_v = unzip(pctb)
rs_d, rs_v = unzip(rsi)

start = pd.Timestamp(hist_first_monday)
hp_x, hp_y, hn_x, hn_y = [], [], [], []
for w, row in enumerate(hist_weeks):
    for k, v in enumerate(row):
        if v is None:
            continue
        day = start + pd.Timedelta(days=7 * w + k)
        if v >= 0:
            hp_x.append(day); hp_y.append(v)
        else:
            hn_x.append(day); hn_y.append(v)


def dash(a, b):
    return f"{px(a):.1f}px,{px(b):.1f}px"


DASH = dash(11, 5)

fig = go.Figure()

# price panel
fig.add_trace(go.Scatter(x=up_d + lo_d[::-1], y=up_v + lo_v[::-1], fill="toself", mode="lines",
                         line=dict(width=0.6, color="rgba(149,165,166,0.18)"),
                         fillcolor="rgba(149,165,166,0.12)", name="Band Range",
                         legendrank=5, xaxis="x", yaxis="y", hoverinfo="skip"))
fig.add_trace(go.Scatter(x=up_d, y=up_v, mode="lines", name="Upper (+2.0σ)", legendrank=2,
                         line=dict(color="#e74c3c", width=px(3), dash=DASH)))
fig.add_trace(go.Scatter(x=md_d, y=md_v, mode="lines", name="Middle (SMA 20)", legendrank=3,
                         line=dict(color="#f39c12", width=px(3), dash=DASH)))
fig.add_trace(go.Scatter(x=lo_d, y=lo_v, mode="lines", name="Lower (-2.0σ)", legendrank=4,
                         line=dict(color="#27ae60", width=px(3), dash=DASH)))
fig.add_trace(go.Scatter(x=cl_d, y=cl_v, mode="lines", name="Close Price", legendrank=1,
                         line=dict(color="#1f6fb0", width=px(5))))
fig.add_trace(go.Scatter(x=au_d, y=au_v, mode="markers", name="Above Upper", legendrank=6,
                         marker=dict(color="#e74c3c", size=px(13))))
fig.add_trace(go.Scatter(x=bl_d, y=bl_v, mode="markers", name="Below Lower", legendrank=7,
                         marker=dict(color="#27ae60", size=px(13))))

# MACD panel
bar_w = 0.85 * DAY
fig.add_trace(go.Bar(x=hp_x, y=hp_y, width=bar_w, marker=dict(color="rgba(38,166,154,0.7)", line=dict(width=0)),
                     name="Histogram", legend="legend2", legendrank=3, xaxis="x2", yaxis="y2"))
fig.add_trace(go.Bar(x=hn_x, y=hn_y, width=bar_w, marker=dict(color="rgba(239,83,80,0.7)", line=dict(width=0)),
                     showlegend=False, legend="legend2", xaxis="x2", yaxis="y2"))
fig.add_trace(go.Scatter(x=mc_d, y=mc_v, mode="lines", name="MACD(12,26)", legend="legend2", legendrank=1,
                         line=dict(color="#1f6fb0", width=px(5)), xaxis="x2", yaxis="y2"))
fig.add_trace(go.Scatter(x=sg_d, y=sg_v, mode="lines", name="Signal(9)", legend="legend2", legendrank=2,
                         line=dict(color="#ff7f0e", width=px(5)), xaxis="x2", yaxis="y2"))

# %B panel
n = len(pb_d)
fig.add_trace(go.Scatter(x=pb_d + pb_d[::-1], y=list(np.maximum(pb_v, 1.0)) + [1.0] * n, fill="toself",
                         mode="lines", line=dict(width=0), fillcolor="rgba(231,76,60,0.2)",
                         showlegend=False, xaxis="x3", yaxis="y3", hoverinfo="skip"))
fig.add_trace(go.Scatter(x=pb_d + pb_d[::-1], y=list(np.minimum(pb_v, 0.0)) + [0.0] * n, fill="toself",
                         mode="lines", line=dict(width=0), fillcolor="rgba(39,174,96,0.2)",
                         showlegend=False, xaxis="x3", yaxis="y3", hoverinfo="skip"))
fig.add_trace(go.Scatter(x=pb_d, y=pb_v, mode="lines", name="%B", legend="legend3", legendrank=1,
                         line=dict(color="#8e44ad", width=px(3.5)), xaxis="x3", yaxis="y3"))

# RSI panel
m = len(rs_d)
fig.add_trace(go.Scatter(x=rs_d + rs_d[::-1], y=list(np.maximum(rs_v, 70.0)) + [70.0] * m, fill="toself",
                         mode="lines", line=dict(width=0), fillcolor="rgba(255,0,0,0.18)",
                         showlegend=False, xaxis="x4", yaxis="y4", hoverinfo="skip"))
fig.add_trace(go.Scatter(x=rs_d + rs_d[::-1], y=list(np.minimum(rs_v, 30.0)) + [30.0] * m, fill="toself",
                         mode="lines", line=dict(width=0), fillcolor="rgba(39,174,96,0.22)",
                         showlegend=False, xaxis="x4", yaxis="y4", hoverinfo="skip"))
fig.add_trace(go.Scatter(x=rs_d, y=rs_v, mode="lines", name="RSI(14)", legend="legend4", legendrank=1,
                         line=dict(color="#ff7f0e", width=px(4.5)), xaxis="x4", yaxis="y4"))


def hline(ax, y, color, dsh, width, name=None, legend=None, rank=None):
    s = dict(type="line", xref=f"x{ax} domain", yref=f"y{ax}", x0=0, x1=1, y0=y, y1=y,
             line=dict(color=color, width=px(width), dash=dsh), layer="above")
    if name:
        s.update(showlegend=True, name=name, legend=legend, legendrank=rank)
    fig.add_shape(**s)


hline(2, 0, "rgba(128,128,128,0.9)", dash(10, 5), 3)
hline(3, 1.0, "rgba(231,76,60,0.7)", dash(10, 5), 3, "%B = 1 (Upper)", "legend3", 2)
hline(3, 0.5, "rgba(243,156,18,0.6)", dash(3, 5), 3, "%B = 0.5 (Mid)", "legend3", 3)
hline(3, 0.0, "rgba(39,174,96,0.7)", dash(10, 5), 3, "%B = 0 (Lower)", "legend3", 4)
hline(4, 70, "rgba(238,34,34,0.85)", dash(12, 6), 3.5, "Overbought (70)", "legend4", 2)
hline(4, 30, "rgba(20,140,20,0.85)", dash(12, 6), 3.5, "Oversold (30)", "legend4", 3)
hline(4, 50, "rgba(128,128,128,0.7)", dash(3, 4), 2.5)

# ---- layout ------------------------------------------------------------
xdom = [161 / W, 4356 / W]
panel_rows = [(43.6, 1797), (1854, 2904), (2961, 3554), (3611, 4203)]   # top, bottom in picture px
ydoms = [[yf(b), yf(t)] for t, b in panel_rows]
tickfont = dict(family=FONT, size=px(28), color="black")
grid_major = "rgba(176,176,176,0.6)"
grid_minor = "rgba(190,190,190,0.45)"


def xaxis(i):
    ax = dict(type="date", domain=xdom, anchor=f"y{i}" if i > 1 else "y",
              range=["2025-07-13 19:12", "2026-08-18 04:48"],
              tick0="2025-07-22", dtick=14 * DAY, tickformat="%b %d",
              ticks="outside", ticklen=px(13), tickwidth=px(2.5), tickcolor="black",
              showline=True, mirror=True, linecolor="black", linewidth=px(2.5),
              showgrid=True, gridcolor=grid_major, gridwidth=px(2), zeroline=False,
              minor=dict(tick0="2025-07-22", dtick=3.5 * DAY, ticks="outside", ticklen=px(7),
                         tickwidth=px(1.5), tickcolor="black", showgrid=True, gridcolor=grid_minor,
                         griddash="dot", gridwidth=px(1.5)),
              showticklabels=(i == 4), tickangle=-45, tickfont=tickfont)
    if i > 1:
        ax["matches"] = "x"
    return ax


def yaxis(i, rng, tick0, dtick, mdtick, fmt=None):
    ax = dict(domain=ydoms[i - 1], anchor="x" if i == 1 else f"x{i}", range=rng,
              tick0=tick0, dtick=dtick, ticks="outside", ticklen=px(13), tickwidth=px(2.5), tickcolor="black",
              showline=True, mirror=True, linecolor="black", linewidth=px(2.5),
              showgrid=True, gridcolor=grid_major, gridwidth=px(2), zeroline=False, tickfont=tickfont,
              minor=dict(tick0=tick0, dtick=mdtick, ticks="outside", ticklen=px(7), tickwidth=px(1.5),
                         tickcolor="black", showgrid=True, gridcolor=grid_minor, griddash="dot",
                         gridwidth=px(1.5)))
    if fmt:
        ax["tickformat"] = fmt
    return ax


def legend(top_px):
    return dict(x=175 / W, y=yf(top_px), xanchor="left", yanchor="top", bgcolor="rgba(255,255,255,0.85)",
                bordercolor="#cccccc", borderwidth=px(2), font=dict(family=FONT, size=px(24), color="black"),
                itemwidth=px(58), tracegroupgap=0)


sp = "\u00a0\u00a0"
title = f"<b>QLYS{sp}—{sp}Bollinger Bands(20, 2.0){sp}+{sp}MACD(12,26,9){sp}+{sp}RSI(14){sp}—{sp}2026-07-31</b>"

ylabel_x = [52.6, 47.8, 38, 54.5]
ylabel_t = ["Price (USD)", "MACD", "%B", "RSI(14)"]
annotations = [dict(text=t, x=xp / W, y=(d[0] + d[1]) / 2, xref="paper", yref="paper", showarrow=False,
                    textangle=-90, xanchor="center", yanchor="middle",
                    font=dict(family=FONT, size=px(33), color="black"))
               for t, xp, d in zip(ylabel_t, ylabel_x, ydoms)]

fig.update_layout(
    autosize=True,
    margin=dict(l=0, r=0, t=0, b=0, pad=0, autoexpand=False),
    paper_bgcolor="white", plot_bgcolor="white",
    font=dict(family=FONT, color="black"),
    title=dict(text=title, x=0.5, xanchor="center", y=yf(46), yanchor="middle",
               font=dict(family=FONT, size=px(49), color="black")),
    xaxis=xaxis(1), xaxis2=xaxis(2), xaxis3=xaxis(3), xaxis4=xaxis(4),
    yaxis=yaxis(1, [71.3, 185.8], 77, 11, 2.75),
    yaxis2=yaxis(2, [-12.3, 15.1], 0, 10, 2),
    yaxis3=yaxis(3, [-0.554, 1.515], 0, 0.5, 0.1, ".1f"),
    yaxis4=yaxis(4, [0, 100], 0, 10, 2),
    legend=legend(55), legend2=legend(1866), legend3=legend(2974), legend4=legend(3624),
    barmode="overlay", bargap=0, showlegend=True,
    annotations=annotations,
)

# fill the browser window exactly, whatever its css size
post = ("document.documentElement.style.margin='0';document.body.style.margin='0';"
        "document.body.style.overflow='hidden';"
        "var gd=document.getElementById('{plot_id}');Plotly.Plots.resize(gd);")
fig.write_html("out.html", config={"responsive": True, "displayModeBar": False},
               default_width="100vw", default_height="100vh", post_script=post)
